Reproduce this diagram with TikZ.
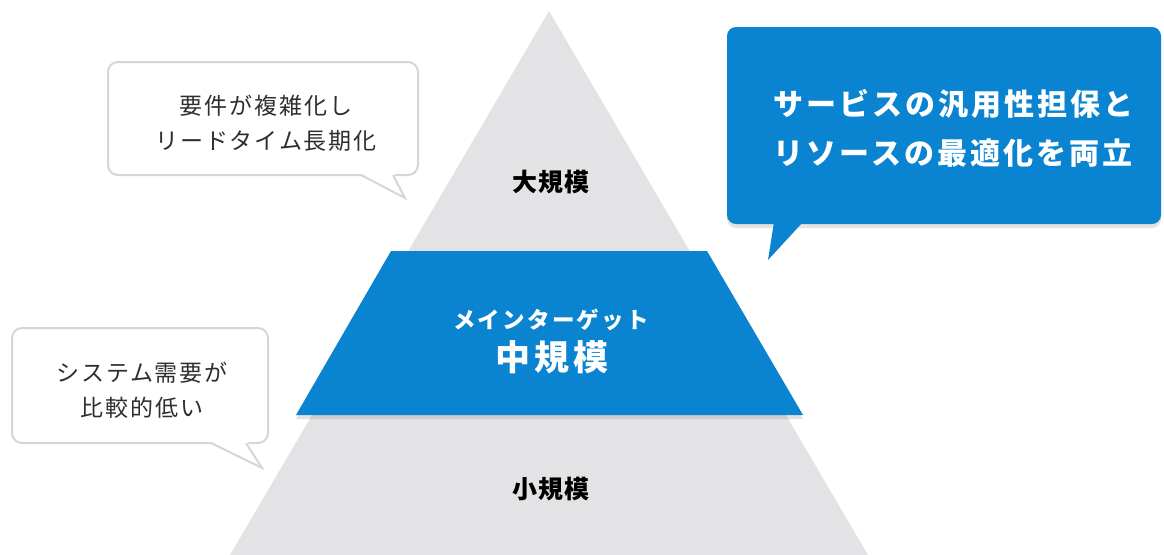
\documentclass[tikz,border=0pt]{standalone}
\usepackage{fontspec}
\newfontfamily\jp{Noto Sans CJK JP}
\newfontfamily\jpls{Noto Sans CJK JP}[LetterSpace=8]
\newfontfamily\jplv{Noto Sans CJK JP}[LetterSpace=5]
\newfontfamily\jpbl{Noto Sans CJK JP}[LetterSpace=10]
\newfontfamily\jpmid{Noto Sans CJK JP}[LetterSpace=12]
\usetikzlibrary{shadows}
\definecolor{mainblue}{HTML}{0A84D0}
\definecolor{pyr}{HTML}{E3E3E5}
\definecolor{bubline}{HTML}{D6D6D6}
\definecolor{txt}{HTML}{2E2E2E}
\begin{document}
\begin{tikzpicture}[x=1pt,y=-1pt,
  bubble/.style={draw=bubline,line width=2pt,fill=white},
  soft/.style={drop shadow={shadow xshift=0pt,shadow yshift=-4pt,opacity=0.18,fill=black!60}},
  btext/.style={text=txt,align=center,font=\jpls\fontsize{23}{35}\selectfont},
  lvl/.style={text=black,font=\jplv\bfseries\fontsize{25}{28}\selectfont},
]
\useasboundingbox (0,0) rectangle (1164,554);
\clip (0,0) rectangle (1164,554);
% pyramid
\fill[pyr] (549,11) -- (868,555) -- (230,555) -- cycle;
% main target band
\fill[mainblue,soft] (391,251) -- (707,251) -- (803,415) -- (296,415) -- cycle;
% bubble top-left
\draw[bubble,rounded corners=10pt] (108,62) rectangle (418,175);
\fill[white] (360,173) -- (405,198) -- (394,173) -- cycle;
\draw[bubline,line width=2pt,line join=miter] (361,175) -- (405,198) -- (393,175);
% bubble bottom-left
\draw[bubble,rounded corners=10pt] (12,328) rectangle (268,443);
\fill[white] (210,441) -- (262,468) -- (247,441) -- cycle;
\draw[bubline,line width=2pt,line join=miter] (211,443) -- (262,468) -- (246,443);
% blue bubble
\fill[mainblue,soft,rounded corners=9pt] (727,27) rectangle (1161,224);
\fill[mainblue] (774,222) -- (768,260) -- (803,222) -- cycle;
% texts
\node[btext] (t1) at (266,123) {要件が複雑化し\\リードタイム長期化};
\node[btext] (t2) at (142,390) {システム需要が\\比較的低い};
\node[text=white,align=center,font=\jpbl\bfseries\fontsize{30}{49}\selectfont] (t3) at (953,128) {サービスの汎用性担保と\\リソースの最適化を両立};
\node[lvl] (big) at (551,182) {大規模};
\node[lvl] (small) at (551,489) {小規模};
\node[text=white,font=\jpbl\bfseries\fontsize{22.5}{26}\selectfont] (mt) at (551,320) {メインターゲット};
\node[text=white,font=\jpmid\bfseries\fontsize{35}{40}\selectfont] (mid) at (552,357) {中規模};
\end{tikzpicture}
\end{document}
